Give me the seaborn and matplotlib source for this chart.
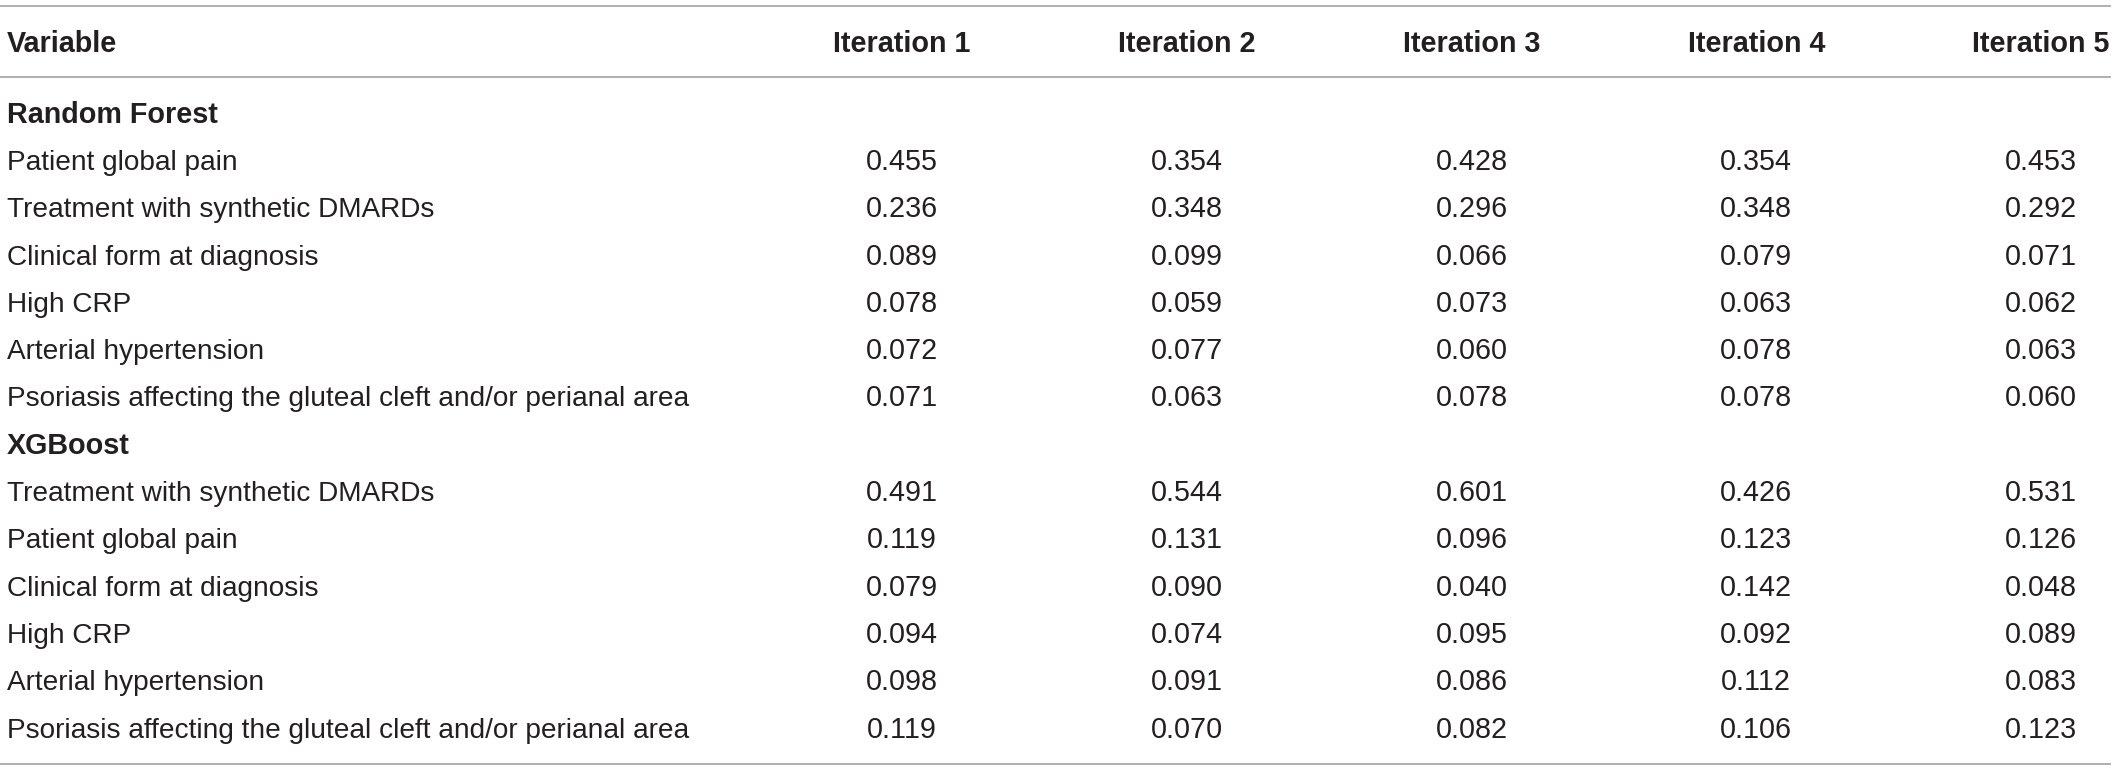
import numpy as np
import pandas as pd
import matplotlib
matplotlib.use("Agg")
import matplotlib.pyplot as plt
import matplotlib.transforms as mtransforms
from matplotlib.colors import ListedColormap
import seaborn as sns

# ---------------- data ----------------
columns = ["Iteration 1", "Iteration 2", "Iteration 3", "Iteration 4", "Iteration 5"]
header_first = "Variable"

rf_title = "Random Forest"
rf_vars = ["Patient global pain", "Treatment with synthetic DMARDs",
           "Clinical form at diagnosis", "High CRP", "Arterial hypertension",
           "Psoriasis affecting the gluteal cleft and/or perianal area"]
rf_patient = [0.455, 0.354, 0.428, 0.354, 0.453]
rf_treatment = [0.236, 0.348, 0.296, 0.348, 0.292]
rf_clinical = [0.089, 0.099, 0.066, 0.079, 0.071]
rf_crp = [0.078, 0.059, 0.073, 0.063, 0.062]
rf_hypert = [0.072, 0.077, 0.060, 0.078, 0.063]
rf_psoriasis = [0.071, 0.063, 0.078, 0.078, 0.060]

xgb_title = "XGBoost"
xgb_vars = ["Treatment with synthetic DMARDs", "Patient global pain",
            "Clinical form at diagnosis", "High CRP", "Arterial hypertension",
            "Psoriasis affecting the gluteal cleft and/or perianal area"]
xgb_treatment = [0.491, 0.544, 0.601, 0.426, 0.531]
xgb_patient = [0.119, 0.131, 0.096, 0.123, 0.126]
xgb_clinical = [0.079, 0.090, 0.040, 0.142, 0.048]
xgb_crp = [0.094, 0.074, 0.095, 0.092, 0.089]
xgb_hypert = [0.098, 0.091, 0.086, 0.112, 0.083]
xgb_psoriasis = [0.119, 0.070, 0.082, 0.106, 0.123]

# build table (group rows are NaN)
nan_row = [np.nan] * 5
rows_labels = [rf_title] + rf_vars + [xgb_title] + xgb_vars
rows_bold = [True] + [False] * 6 + [True] + [False] * 6
rows_values = [nan_row, rf_patient, rf_treatment, rf_clinical, rf_crp, rf_hypert, rf_psoriasis,
               nan_row, xgb_treatment, xgb_patient, xgb_clinical, xgb_crp, xgb_hypert, xgb_psoriasis]
df = pd.DataFrame(rows_values, columns=columns)

# ---------------- style ----------------
sns.set_theme(style="white")
plt.rcParams["font.family"] = ["Liberation Sans", "DejaVu Sans"]
TXT = "#231f20"
RULE = "#a7a9ac"
FS = 20.7
FS_LAB = 20.2

W, H, DPI = 2118, 769, 100
fig = plt.figure(figsize=(W / DPI, H / DPI), dpi=DPI)
fig.patch.set_facecolor("white")

# layout (pixels)
row_h = 47.3
first_center = 112.4
n_rows = len(rows_labels)
col_w = 284.75
first_col_center = 902.0
n_cols = len(columns)
base_off = 10.3  # baseline below cell centre

hm_left = first_col_center - col_w / 2
hm_top = first_center - row_h / 2
hm_w = col_w * n_cols
hm_h = row_h * n_rows
hm_ax = fig.add_axes([hm_left / W, 1 - (hm_top + hm_h) / H, hm_w / W, hm_h / H])

annot_tr = mtransforms.offset_copy(hm_ax.transData, fig=fig, x=0, y=-base_off, units="dots")
sns.heatmap(df, ax=hm_ax, cmap=ListedColormap(["white"]), cbar=False,
            annot=True, fmt=".3f", linewidths=0,
            xticklabels=False, yticklabels=False,
            annot_kws=dict(color=TXT, fontsize=FS, va="baseline", transform=annot_tr))
hm_ax.set_xlabel("")
hm_ax.set_ylabel("")

# overlay axes in pixel space for labels and rules
ov = fig.add_axes([0, 0, 1, 1])
ov.set_xlim(0, W)
ov.set_ylim(H, 0)
ov.axis("off")
ov.patch.set_alpha(0)

label_x = 7
header_base = 51.7
ov.text(label_x, header_base, header_first, fontsize=FS, fontweight="bold",
        color=TXT, ha="left", va="baseline")
blend = mtransforms.blended_transform_factory(hm_ax.transData, ov.transData)
for i, c in enumerate(columns):
    ov.text(i + 0.5, header_base, c, transform=blend, fontsize=FS, fontweight="bold",
            color=TXT, ha="center", va="baseline")

for j, (lab, b) in enumerate(zip(rows_labels, rows_bold)):
    y = first_center + j * row_h + base_off
    ov.text(label_x, y, lab, fontsize=FS if b else FS_LAB,
            fontweight="bold" if b else "normal",
            color=TXT, ha="left", va="baseline")

for yy in (6, 77, 764):
    ov.plot([0, 2111], [yy, yy], color=RULE, lw=1.3, solid_capstyle="butt")

fig.savefig("out.png", dpi=DPI, facecolor="white")
